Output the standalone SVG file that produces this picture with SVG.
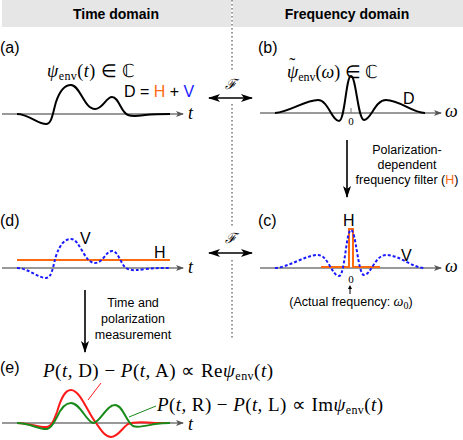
<svg xmlns="http://www.w3.org/2000/svg" width="463" height="440" viewBox="0 0 463 440">
<style>
.lbl{font-family:"Liberation Sans",Arial,sans-serif;font-size:16px;fill:#000}
.hd{font-family:"Liberation Sans",Arial,sans-serif;font-size:14px;font-weight:bold;fill:#000}
.sm{font-family:"Liberation Sans",Arial,sans-serif;font-size:12.5px;fill:#000}
.m{font-family:"Liberation Serif","Times New Roman",serif;font-size:18px;fill:#000}
.z{font-family:"Liberation Serif","Times New Roman",serif;font-size:11px;fill:#000}
.f{font-family:"DejaVu Serif",serif;font-size:14px;font-style:italic;fill:#000}
.i{font-style:italic}
.sub{font-size:12px}
.axis{stroke:#777;stroke-width:1.3;fill:none;marker-end:url(#ga)}
.blk{stroke:#000;stroke-width:2;fill:none}
.bl{stroke:#1a1aff;stroke-width:2;fill:none;stroke-dasharray:3,2}
.or{stroke:#ff6a10;stroke-width:2;fill:none}
.arr{stroke:#000;stroke-width:1.6;fill:none;marker-end:url(#ah)}
.darr{stroke:#000;stroke-width:1.6;fill:none;marker-end:url(#ah);marker-start:url(#ah)}
.dot{stroke:#333;stroke-width:1;stroke-dasharray:1.5,2.5;fill:none}
</style>
<defs>
<marker id="ah" viewBox="0 0 12 8" refX="11" refY="4" markerWidth="12" markerHeight="8" markerUnits="userSpaceOnUse" orient="auto-start-reverse"><path d="M0,0 L12,4 L0,8 L3,4 z" fill="#000"/></marker>
<marker id="ga" viewBox="0 0 8 6" refX="7" refY="3" markerWidth="8" markerHeight="6" markerUnits="userSpaceOnUse" orient="auto"><path d="M0,0 L8,3 L0,6 L2,3 z" fill="#555"/></marker>
</defs>

<g id="header">
<rect x="2" y="0" width="229" height="27" fill="#e6e6e6"/>
<rect x="233" y="0" width="230" height="27" fill="#e6e6e6"/>
<text class="hd" x="116" y="19" text-anchor="middle">Time domain</text>
<text class="hd" x="347" y="19" text-anchor="middle">Frequency domain</text>
</g>

<g id="divider">
<path class="dot" d="M232,0 V72 M232,104 V226 M232,260 V338"/>
</g>

<g id="panel-a">
<text class="lbl" x="0" y="53">(a)</text>
<text class="m" x="47" y="77" textLength="88"><tspan class="i">ψ</tspan><tspan class="sub" dy="3">env</tspan><tspan dy="-3">(</tspan><tspan class="i">t</tspan>) ∈ ℂ</text>
<text class="lbl" x="124" y="97">D = <tspan fill="#ff6a10">H</tspan> + <tspan fill="#1a1aff">V</tspan></text>
<path class="axis" d="M2,114 H183"/>
<text class="m i" x="188" y="119">t</text>
<path class="blk" d="M17,114 C28,114 38,124 46,124 C52,124 53,112 56,102 C60,90 65,85 71,85 C80,85 84,109 95,109 C103,109 106,97 112,97 C119,97 121,113 128,115 C133,117 138,116 145,115 C155,114 162,114 170,114"/>
</g>

<g id="panel-b">
<text class="lbl" x="258" y="53">(b)</text>
<text class="m" x="287" y="78"><tspan class="i">ψ</tspan><tspan dx="-9" dy="-7">˜</tspan><tspan class="sub" dx="3" dy="10">env</tspan><tspan dy="-3">(</tspan><tspan class="i">ω</tspan>) ∈ ℂ</text>
<path class="axis" d="M260,113 H441"/>
<text class="m i" x="445" y="117">ω</text>
<path d="M351,108 V113" stroke="#777" stroke-width="1"/>
<text class="z" x="351" y="125" text-anchor="middle">0</text>
<path class="blk" d="M275,113 C290,112 305,100 318,100 C328,100 332,121 339,121 C345,121 346,76 351,76 C356,76 358,120 364,120 C371,120 375,100 386,100 C400,100 412,113 425,113"/>
<text class="lbl" x="403" y="104">D</text>
</g>

<g id="panel-c">
<text class="lbl" x="258" y="226">(c)</text>
<text class="lbl" x="343" y="226" fill="#ff6a10">H</text>
<path class="axis" d="M260,268 H441"/>
<text class="m i" x="445" y="272">ω</text>
<path class="or" d="M321,267 H349 V229 H353 V267 H380"/>
<path class="bl" d="M275,268 C290,267 305,255 318,255 C328,255 332,276 339,276 C345,276 346,230 351,230 C356,230 358,275 364,275 C371,275 375,255 386,255 C400,255 412,268 425,268"/>
<text class="lbl" x="401" y="261" fill="#1a1aff">V</text>
<text class="z" x="351" y="283" text-anchor="middle">0</text>
<path d="M350,294 V288" stroke="#000" stroke-width="1"/>
<path d="M348,289 L350,285 L352,289 z" fill="#000"/>
<text class="sm" x="351" y="306" text-anchor="middle">(Actual frequency: <tspan style="font-family:'Liberation Serif',serif;font-style:italic;font-size:14px">ω</tspan><tspan style="font-family:'Liberation Serif',serif;font-size:10px" dy="3">0</tspan><tspan dy="-3">)</tspan></text>
</g>

<g id="panel-d">
<text class="lbl" x="0" y="226">(d)</text>
<path class="axis" d="M2,268 H183"/>
<text class="m i" x="188" y="273">t</text>
<path class="or" d="M17,260 H170"/>
<path class="bl" transform="translate(0,154)" d="M17,114 C28,114 38,124 46,124 C52,124 53,112 56,102 C60,90 65,85 71,85 C80,85 84,109 95,109 C103,109 106,97 112,97 C119,97 121,113 128,115 C133,117 138,116 145,115 C155,114 162,114 170,114"/>
<text class="lbl" x="80" y="244" fill="#1a1aff">V</text>
<text class="lbl" x="154" y="258" fill="#ff6a10">H</text>
</g>

<g id="panel-e">
<text class="lbl" x="0" y="373">(e)</text>
<path class="axis" d="M2,423 H183"/>
<text class="m i" x="188" y="430">t</text>
<path d="M17,423 C30,423 40,428 47,427 C52,426 54,420 57,412 C61,398 65,390 71,390 C80,390 88,413 96,423 C101,430 105,437 111,437 C118,437 122,428 128,424 C135,421 145,422 155,423 C162,423 166,423 170,423" stroke="#ff1a1a" stroke-width="2" fill="none"/>
<path d="M17,423 C30,423 40,430 47,429 C52,428 54,422 57,417 C61,408 65,403 71,403 C80,403 86,421 93,423 C100,423 106,405 115,405 C123,405 126,422 133,426 C138,428 145,426 155,424 C162,423 166,423 170,423" stroke="#1a8a1a" stroke-width="2" fill="none"/>
<path d="M88,400 L101,383" stroke="#ff1a1a" stroke-width="1"/>
<path d="M129,417 L156,406" stroke="#1a8a1a" stroke-width="1"/>
<text class="m" x="43" y="377" fill="#ff1a1a" textLength="230" style="font-size:19px"><tspan class="i">P</tspan>(<tspan class="i">t,</tspan> D) − <tspan class="i">P</tspan>(<tspan class="i">t,</tspan> A) ∝ Re<tspan class="i">ψ</tspan><tspan class="sub" dy="3">env</tspan><tspan dy="-3">(</tspan><tspan class="i">t</tspan>)</text>
<text class="m" x="157" y="411" fill="#1a8a1a" textLength="226" style="font-size:19px"><tspan class="i">P</tspan>(<tspan class="i">t,</tspan> R) − <tspan class="i">P</tspan>(<tspan class="i">t,</tspan> L) ∝ Im<tspan class="i">ψ</tspan><tspan class="sub" dy="3">env</tspan><tspan dy="-3">(</tspan><tspan class="i">t</tspan>)</text>
</g>

<g id="connectors">
<path class="darr" d="M209,98 H252"/>
<text class="f" x="231" y="89" text-anchor="middle">ℱ</text>
<path class="darr" d="M209,253 H252"/>
<text class="f" x="231" y="243" text-anchor="middle">ℱ</text>
<path class="arr" d="M347,140 V197"/>
<text class="sm" x="407" y="154" text-anchor="middle">Polarization-</text>
<text class="sm" x="407" y="169" text-anchor="middle">dependent</text>
<text class="sm" x="407" y="184" text-anchor="middle">frequency filter (<tspan fill="#ff6a10">H</tspan>)</text>
<path class="arr" d="M85,290 V352"/>
<text class="sm" x="133" y="307" text-anchor="middle">Time and</text>
<text class="sm" x="133" y="323" text-anchor="middle">polarization</text>
<text class="sm" x="133" y="339" text-anchor="middle">measurement</text>
</g>
</svg>
